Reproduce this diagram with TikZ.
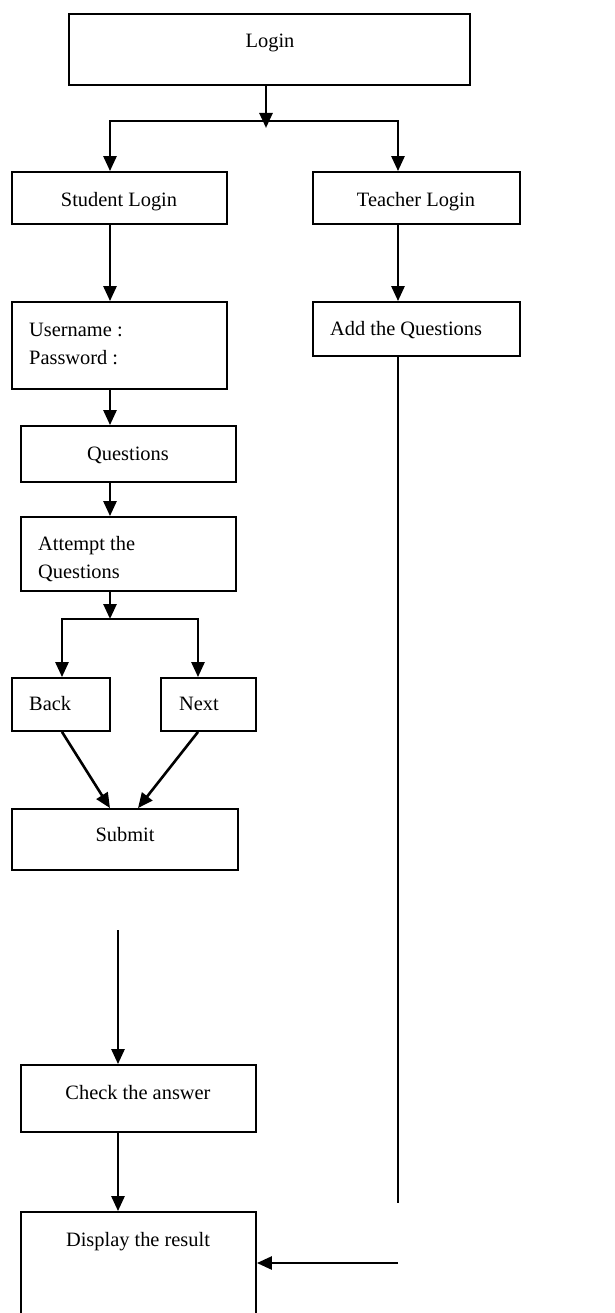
\documentclass[tikz,border=0pt]{standalone}
\usepackage{fontspec}
\setmainfont{Liberation Serif}
\usetikzlibrary{arrows.meta,calc}
\begin{document}
\begin{tikzpicture}[x=1pt,y=-1pt,
  box/.style={draw, line width=1.8pt, rectangle, inner sep=0pt},
  txt/.style={inner sep=0pt, anchor=mid, font=\fontsize{20.4}{28}\selectfont},
  ltxt/.style={inner sep=0pt, anchor=mid west, font=\fontsize{20.4}{28}\selectfont},
  mtxt/.style={inner sep=0pt, anchor=west, align=left, font=\fontsize{20.4}{28}\selectfont},
  arr/.style={line width=2.6pt, -{Triangle[width=13pt,length=15pt]}},
  thinln/.style={line width=1.8pt}]
\useasboundingbox (0,0) rectangle (614,1313);
\clip (0,0) rectangle (614,1313);

% boxes
\node[box, minimum width=401pt, minimum height=71pt] (login) at (269.5,49.5) {};
\node[txt] (logint) at (270,45) {Login};
\node[box, minimum width=215pt, minimum height=52pt] (student) at (119.5,198) {};
\node[txt] (studentt) at (119,204) {Student Login};
\node[box, minimum width=207pt, minimum height=52pt] (teacher) at (416.5,198) {};
\node[txt] (teachert) at (416,204) {Teacher Login};
\node[box, minimum width=215pt, minimum height=87pt] (user) at (119.5,345.5) {};
\node[mtxt] (usert) at (29,344) {Username :\\Password :};
\node[box, minimum width=207pt, minimum height=54pt] (add) at (416.5,329) {};
\node[ltxt] (addt) at (330,333) {Add the Questions};
\node[box, minimum width=215pt, minimum height=56pt] (ques) at (128.5,454) {};
\node[txt] (quest) at (128,458) {Questions};
\node[box, minimum width=215pt, minimum height=74pt] (attempt) at (128.5,554) {};
\node[mtxt] (attemptt) at (38,559) {Attempt the\\Questions};
\node[box, minimum width=98pt, minimum height=53pt] (back) at (61,704.5) {};
\node[ltxt] (backt) at (29,708) {Back};
\node[box, minimum width=95pt, minimum height=53pt] (next) at (208.5,704.5) {};
\node[ltxt] (nextt) at (179,708) {Next};
\node[box, minimum width=226pt, minimum height=61pt] (submit) at (125,839.5) {};
\node[txt] (submitt) at (125,839) {Submit};
\node[box, minimum width=235pt, minimum height=67pt] (check) at (138.5,1098.5) {};
\node[txt] (checkt) at (138,1097) {Check the answer};
\node[box, minimum width=235pt, minimum height=140pt] (display) at (138.5,1282) {};
\node[txt] (displayt) at (138,1244) {Display the result};

% connectors
\coordinate (j1) at (266,128);
\coordinate (hl) at (110,121);
\coordinate (hr) at (398,121);
\draw[arr] (login.south -| j1) -- (j1);
\draw[arr] (hr) -- (hl) -- (student.north -| hl);
\draw[arr] (hl) -- (hr) -- (teacher.north -| hr);
\draw[arr] (student.south -| hl) -- (user.north -| hl);
\draw[arr] (teacher.south -| hr) -- (add.north -| hr);
\coordinate (tend) at (398,1203);
\draw[thinln] (add.south -| hr) -- (tend);
\draw[arr] (user.south -| hl) -- (ques.north -| hl);
\draw[arr] (ques.south -| hl) -- (attempt.north -| hl);
\coordinate (j2) at (110,619);
\coordinate (bl) at (62,619);
\coordinate (br) at (198,619);
\draw[arr] (attempt.south -| j2) -- (j2);
\draw[arr] (br) -- (bl) -- (back.north -| bl);
\draw[arr] (bl) -- (br) -- (next.north -| br);
\draw[arr] (back.south -| bl) -- (submit.north -| j2);
\draw[arr] (next.south -| br) -- ($(submit.north)+(13,0)$);
\coordinate (free) at (118,930);
\draw[arr] (free) -- (check.north -| free);
\draw[arr] (check.south -| free) -- (display.north -| free);
\coordinate (hin) at (398,1263);
\draw[arr] (hin) -- (display.east |- hin);
\end{tikzpicture}
\end{document}
